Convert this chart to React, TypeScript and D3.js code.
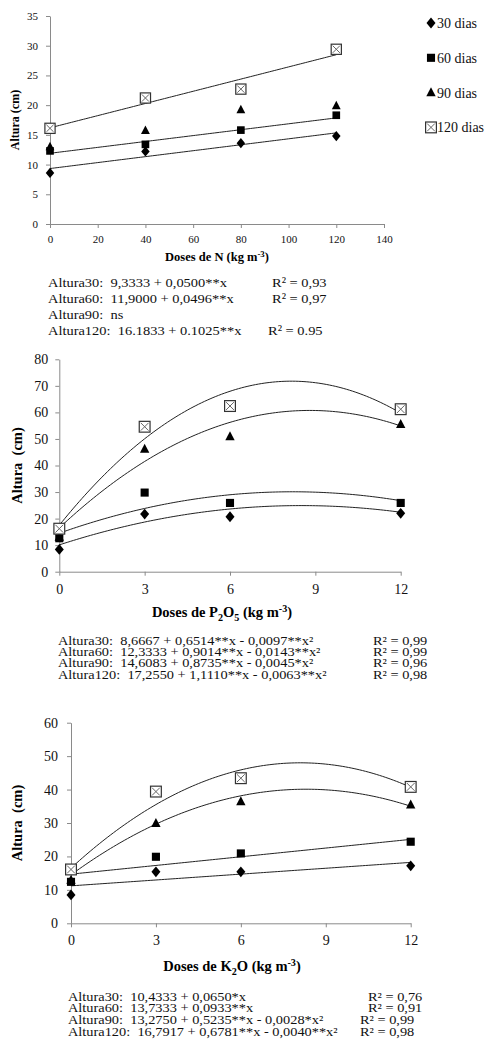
import React, { useRef, useEffect } from 'react';
import * as d3 from 'd3';

// series names (shared by the three panels)
const seriesNames = ['30 dias', '60 dias', '90 dias', '120 dias'];
const markerTypes = ['diamond', 'square', 'triangle', 'boxx'];

// panel 1 - doses de N
const nDoses = [0, 40, 80, 120];
const n30 = [8.6, 12.2, 13.6, 14.8];
const n60 = [12.3, 13.4, 15.8, 18.3];
const n90 = [13.0, 15.7, 19.2, 19.9];
const n120 = [16.1, 21.2, 22.7, 29.4];
// fitted curves: [a, b, c] -> a + b*x + c*x^2 (null = ns)
const nFits = [[9.3333, 0.05, 0], [11.9, 0.0496, 0], null, [16.1833, 0.1025, 0]];
const nXTicks = [0, 20, 40, 60, 80, 100, 120, 140];
const nYTicks = [0, 5, 10, 15, 20, 25, 30, 35];
const nEqLeft = ['Altura30:  9,3333 + 0,0500**x', 'Altura60:  11,9000 + 0,0496**x', 'Altura90:  ns', 'Altura120:  16.1833 + 0.1025**x'];
const nEqR2 = ['R² = 0,93', 'R² = 0,97', '', 'R² = 0.95'];

// panel 2 - doses de P2O5
const pDoses = [0, 3, 6, 12];
const p30 = [8.4, 21.7, 20.7, 22.0];
const p60 = [12.6, 29.8, 25.9, 25.9];
const p90 = [13.0, 46.2, 50.9, 55.5];
const p120 = [16.2, 54.6, 62.4, 61.2];
const pFits = [[10.1, 3.482, -0.2048], [14.5, 3.805, -0.232], [16.5, 10.05, -0.5708], [17.5, 13.3, -0.815]];
const pXTicks = [0, 3, 6, 9, 12];
const pYTicks = [0, 10, 20, 30, 40, 50, 60, 70, 80];
const pEqLeft = ['Altura30:  8,6667 + 0,6514**x - 0,0097**x²', 'Altura60:  12,3333 + 0,9014**x - 0,0143**x²', 'Altura90:  14,6083 + 0,8735**x - 0,0045*x²', 'Altura120:  17,2550 + 1,1110**x - 0,0063**x²'];
const pEqR2 = ['R² = 0,99', 'R² = 0,99', 'R² = 0,96', 'R² = 0,98'];

// panel 3 - doses de K2O
const kDoses = [0, 3, 6, 12];
const k30 = [8.5, 15.4, 15.4, 17.2];
const k60 = [12.4, 19.9, 20.9, 24.4];
const k90 = [12.9, 29.9, 36.4, 35.4];
const k120 = [16.1, 39.4, 43.4, 40.8];
const kFits = [[11.2, 0.585, 0], [14.7, 0.867, 0], [14.5, 6.169, -0.3716], [16.5, 7.778, -0.4801]];
const kXTicks = [0, 3, 6, 9, 12];
const kYTicks = [0, 10, 20, 30, 40, 50, 60];
const kEqLeft = ['Altura30:  10,4333 + 0,0650*x', 'Altura60:  13,7333 + 0,0933**x', 'Altura90:  13,2750 + 0,5235**x - 0,0028*x²', 'Altura120:  16,7917 + 0,6781**x - 0,0040**x²'];
const kEqR2 = ['R² = 0,76', 'R² = 0,91', 'R² = 0,99', 'R² = 0,98'];

const serif = "'Liberation Serif', 'Times New Roman', serif";
const axisColor = '#8a8a8a';

function drawMarker(g, type, cx, cy, s) {
  if (type === 'diamond') {
    g.append('path')
      .attr('d', `M${cx},${cy - s * 0.6}L${cx + s * 0.5},${cy}L${cx},${cy + s * 0.6}L${cx - s * 0.5},${cy}Z`)
      .attr('fill', '#000');
  } else if (type === 'square') {
    g.append('rect').attr('x', cx - s * 0.45).attr('y', cy - s * 0.45)
      .attr('width', s * 0.9).attr('height', s * 0.9).attr('fill', '#000');
  } else if (type === 'triangle') {
    g.append('path')
      .attr('d', `M${cx},${cy - s * 0.6}L${cx + s * 0.52},${cy + s * 0.4}L${cx - s * 0.52},${cy + s * 0.4}Z`)
      .attr('fill', '#000');
  } else {
    const h = s * 0.6;
    g.append('rect').attr('x', cx - h).attr('y', cy - h).attr('width', h * 2).attr('height', h * 2)
      .attr('fill', '#fff').attr('stroke', '#333').attr('stroke-width', 1.2);
    g.append('path')
      .attr('d', `M${cx - h + 1.5},${cy - h + 1.5}L${cx + h - 1.5},${cy + h - 1.5}M${cx + h - 1.5},${cy - h + 1.5}L${cx - h + 1.5},${cy + h - 1.5}`)
      .attr('stroke', '#666').attr('stroke-width', 1);
  }
}

// text with sub/superscript parts
function richText(sel, parts, size) {
  let shift = 0;
  parts.forEach((p) => {
    const target = p.sub ? size * 0.25 : p.sup ? -size * 0.35 : 0;
    sel.append('tspan')
      .attr('dy', target - shift)
      .attr('font-size', p.sub || p.sup ? size * 0.7 : size)
      .text(p.t);
    shift = target;
  });
}

function drawPanel(svg, p) {
  const x = d3.scaleLinear().domain(p.xDomain).range([p.left, p.right]);
  const y = d3.scaleLinear().domain(p.yDomain).range([p.bottom, p.top]);
  const g = svg.append('g');

  g.append('g')
    .attr('transform', `translate(0,${p.bottom})`)
    .call(d3.axisBottom(x).tickValues(p.xTicks).tickSize(4).tickSizeOuter(0).tickPadding(p.xPad));
  g.append('g')
    .attr('transform', `translate(${p.left},0)`)
    .call(d3.axisLeft(y).tickValues(p.yTicks).tickSize(4).tickSizeOuter(0).tickPadding(p.yPad));
  g.selectAll('.domain, .tick line').attr('stroke', axisColor);
  g.selectAll('.tick text').attr('font-family', serif).attr('font-size', p.tickFont).attr('fill', '#111');

  // fitted curves
  const maxX = d3.max(p.doses);
  const xs = d3.range(0, maxX + 0.001, maxX / 120);
  p.fits.forEach((f) => {
    if (!f) return;
    g.append('path')
      .datum(xs)
      .attr('fill', 'none')
      .attr('stroke', '#222')
      .attr('stroke-width', 1)
      .attr('d', d3.line().x((d) => x(d)).y((d) => y(f[0] + f[1] * d + f[2] * d * d)));
  });

  // points
  p.series.forEach((vals, i) => {
    vals.forEach((v, j) => drawMarker(g, markerTypes[i], x(p.doses[j]), y(v), p.markerSize));
  });

  // y label
  g.append('text')
    .attr('transform', `translate(${p.yLabelX},${(p.top + p.bottom) / 2}) rotate(-90)`)
    .attr('text-anchor', 'middle')
    .attr('dy', '0.35em')
    .attr('font-family', serif)
    .attr('font-weight', 'bold')
    .attr('font-size', p.yLabelFont)
    .style('white-space', 'pre')
    .text(p.yLabel);

  // x label
  const xl = g.append('text')
    .attr('x', p.xLabelX)
    .attr('y', p.xLabelY)
    .attr('text-anchor', 'middle')
    .attr('font-family', serif)
    .attr('font-weight', 'bold')
    .attr('font-size', p.labelFont)
    .style('white-space', 'pre');
  richText(xl, p.xLabel, p.labelFont);

  // equations (the source text is a little wider than its height suggests)
  p.eqLeft.forEach((t, i) => {
    const yy = p.eqY + i * p.eqStep;
    g.append('text').attr('transform', `translate(${p.eqX},${yy}) scale(${p.eqScale},1)`)
      .attr('font-family', serif).attr('font-size', p.eqFont).attr('fill', '#111')
      .style('white-space', 'pre').text(t);
    g.append('text').attr('transform', `translate(${p.r2X[i]},${yy}) scale(${p.eqScale},1)`)
      .attr('font-family', serif).attr('font-size', p.eqFont).attr('fill', '#111')
      .style('white-space', 'pre').text(p.eqR2[i]);
  });
}

const App = () => {
  const ref = useRef(null);
  useEffect(() => {
    document.body.style.margin = '0';
    const svg = d3.select(ref.current);
    svg.selectAll('*').remove();

    drawPanel(svg, {
      left: 50, right: 384, top: 16, bottom: 224,
      xDomain: [0, 140], yDomain: [0, 35], xTicks: nXTicks, yTicks: nYTicks,
      xPad: 7, yPad: 8, tickFont: 11, markerSize: 8.5,
      doses: nDoses, series: [n30, n60, n90, n120], fits: nFits,
      yLabel: 'Altura (cm)', yLabelX: 15, yLabelFont: 12, labelFont: 12.5,
      xLabel: [{ t: 'Doses de N (kg m' }, { t: '-3', sup: true }, { t: ')' }], xLabelX: 217, xLabelY: 261,
      eqLeft: nEqLeft, eqR2: nEqR2, eqX: 48, r2X: [272, 272, 272, 268], eqY: 286.5, eqStep: 16, eqFont: 13.5, eqScale: 1.07,
    });

    drawPanel(svg, {
      left: 59.3, right: 400.7, top: 359.3, bottom: 571.7,
      xDomain: [0, 12], yDomain: [0, 80], xTicks: pXTicks, yTicks: pYTicks,
      xPad: 8, yPad: 7, tickFont: 14, markerSize: 9,
      doses: pDoses, series: [p30, p60, p90, p120], fits: pFits,
      yLabel: 'Altura  (cm)', yLabelX: 17, yLabelFont: 14.5, labelFont: 14.5,
      xLabel: [{ t: 'Doses de P' }, { t: '2', sub: true }, { t: 'O' }, { t: '5', sub: true }, { t: ' (kg m' }, { t: '-3', sup: true }, { t: ')' }],
      xLabelX: 222, xLabelY: 617,
      eqLeft: pEqLeft, eqR2: pEqR2, eqX: 58, r2X: [373, 373, 373, 373], eqY: 644.5, eqStep: 11.4, eqFont: 11.5, eqScale: 1.25,
    });

    drawPanel(svg, {
      left: 71, right: 410.7, top: 722.7, bottom: 923.3,
      xDomain: [0, 12], yDomain: [0, 60], xTicks: kXTicks, yTicks: kYTicks,
      xPad: 8, yPad: 9, tickFont: 14, markerSize: 9,
      doses: kDoses, series: [k30, k60, k90, k120], fits: kFits,
      yLabel: 'Altura  (cm)', yLabelX: 17, yLabelFont: 14.5, labelFont: 14.5,
      xLabel: [{ t: 'Doses de K' }, { t: '2', sub: true }, { t: 'O (kg m' }, { t: '-3', sup: true }, { t: ')' }],
      xLabelX: 232, xLabelY: 971,
      eqLeft: kEqLeft, eqR2: kEqR2, eqX: 68, r2X: [368, 368, 360, 360], eqY: 1000.5, eqStep: 11.7, eqFont: 11.5, eqScale: 1.25,
    });

    // legend (top panel)
    const lg = svg.append('g');
    seriesNames.forEach((name, i) => {
      const cy = 23 + i * 34.8;
      drawMarker(lg, markerTypes[i], 431, cy, 9);
      lg.append('text').attr('x', 437).attr('y', cy + 5)
        .attr('font-family', serif).attr('font-size', 14).attr('fill', '#111').text(name);
    });
  }, []);

  return (
    <div>
      <svg ref={ref} width={490} height={1055} style={{ display: 'block' }}></svg>
    </div>
  );
};

export default App;
